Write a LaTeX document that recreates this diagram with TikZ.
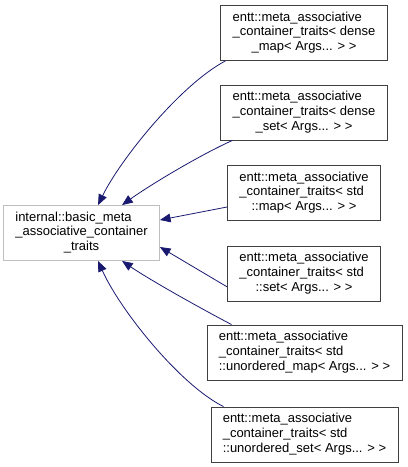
\documentclass[tikz,border=0pt]{standalone}
\usepackage{fontspec}
\setmainfont{Liberation Sans}
\usetikzlibrary{arrows.meta}
\definecolor{edgeblue}{RGB}{25,25,112}
\newcommand{\cls}[3]{\begin{tabular}{@{}l@{}}#1\\#2\\\multicolumn{1}{@{}c@{}}{#3}\end{tabular}}
\tikzset{
  classbox/.style={draw=black!75, fill=white, inner xsep=9pt, inner ysep=0pt,
    minimum height=41.5pt, font=\fontsize{9.75}{11}\selectfont},
  basebox/.style={classbox, draw=black!25},
  inherit/.style={edgeblue, semithick, -{Triangle[length=8pt,width=6.5pt]}}
}
\begin{document}
\begin{tikzpicture}[x=0.75pt, y=-0.75pt]
  \useasboundingbox (0,0) rectangle (407,467);

  % Base class on the left
  \node[basebox] (base) at (81.5,233)
    {\cls{internal::basic\_meta}{\_associative\_container}{\_traits}};

  % Derived traits on the right
  \node[classbox] (dmap) at (304,33)
    {\cls{entt::meta\_associative}{\_container\_traits< dense}{\_map< Args... > >}};
  \node[classbox] (dset) at (304,112.5)
    {\cls{entt::meta\_associative}{\_container\_traits< dense}{\_set< Args... > >}};
  \node[classbox] (smap) at (304,193)
    {\cls{entt::meta\_associative}{\_container\_traits< std}{::map< Args... > >}};
  \node[classbox] (sset) at (304,273.5)
    {\cls{entt::meta\_associative}{\_container\_traits< std}{::set< Args... > >}};
  \node[classbox] (umap) at (304.5,352.5)
    {\cls{entt::meta\_associative}{\_container\_traits< std}{::unordered\_map< Args... > >}};
  \node[classbox] (uset) at (304.5,434.5)
    {\cls{entt::meta\_associative}{\_container\_traits< std}{::unordered\_set< Args... > >}};

  % Inheritance arrows
  \draw[inherit] ([xshift=3.75pt]dmap.south west) .. controls (180,85) and (120,160) .. ([xshift=12.4pt]base.north);
  \draw[inherit] ([xshift=9pt]dset.south west) .. controls (200,155) and (150,185) .. ([xshift=30.4pt]base.north);
  \draw[inherit] ([yshift=-10.5pt]smap.east -| smap.west) -- ([yshift=9.75pt]base.east);
  \draw[inherit] ([yshift=-10pt]sset.west) -- ([yshift=-10.5pt]base.east);
  \draw[inherit] ([xshift=18.75pt]umap.north west) .. controls (200,308) and (150,280) .. ([xshift=30.4pt]base.south);
  \draw[inherit] ([xshift=9.75pt]uset.north west) .. controls (180,385) and (120,310) .. ([xshift=12.4pt]base.south);
\end{tikzpicture}
\end{document}
